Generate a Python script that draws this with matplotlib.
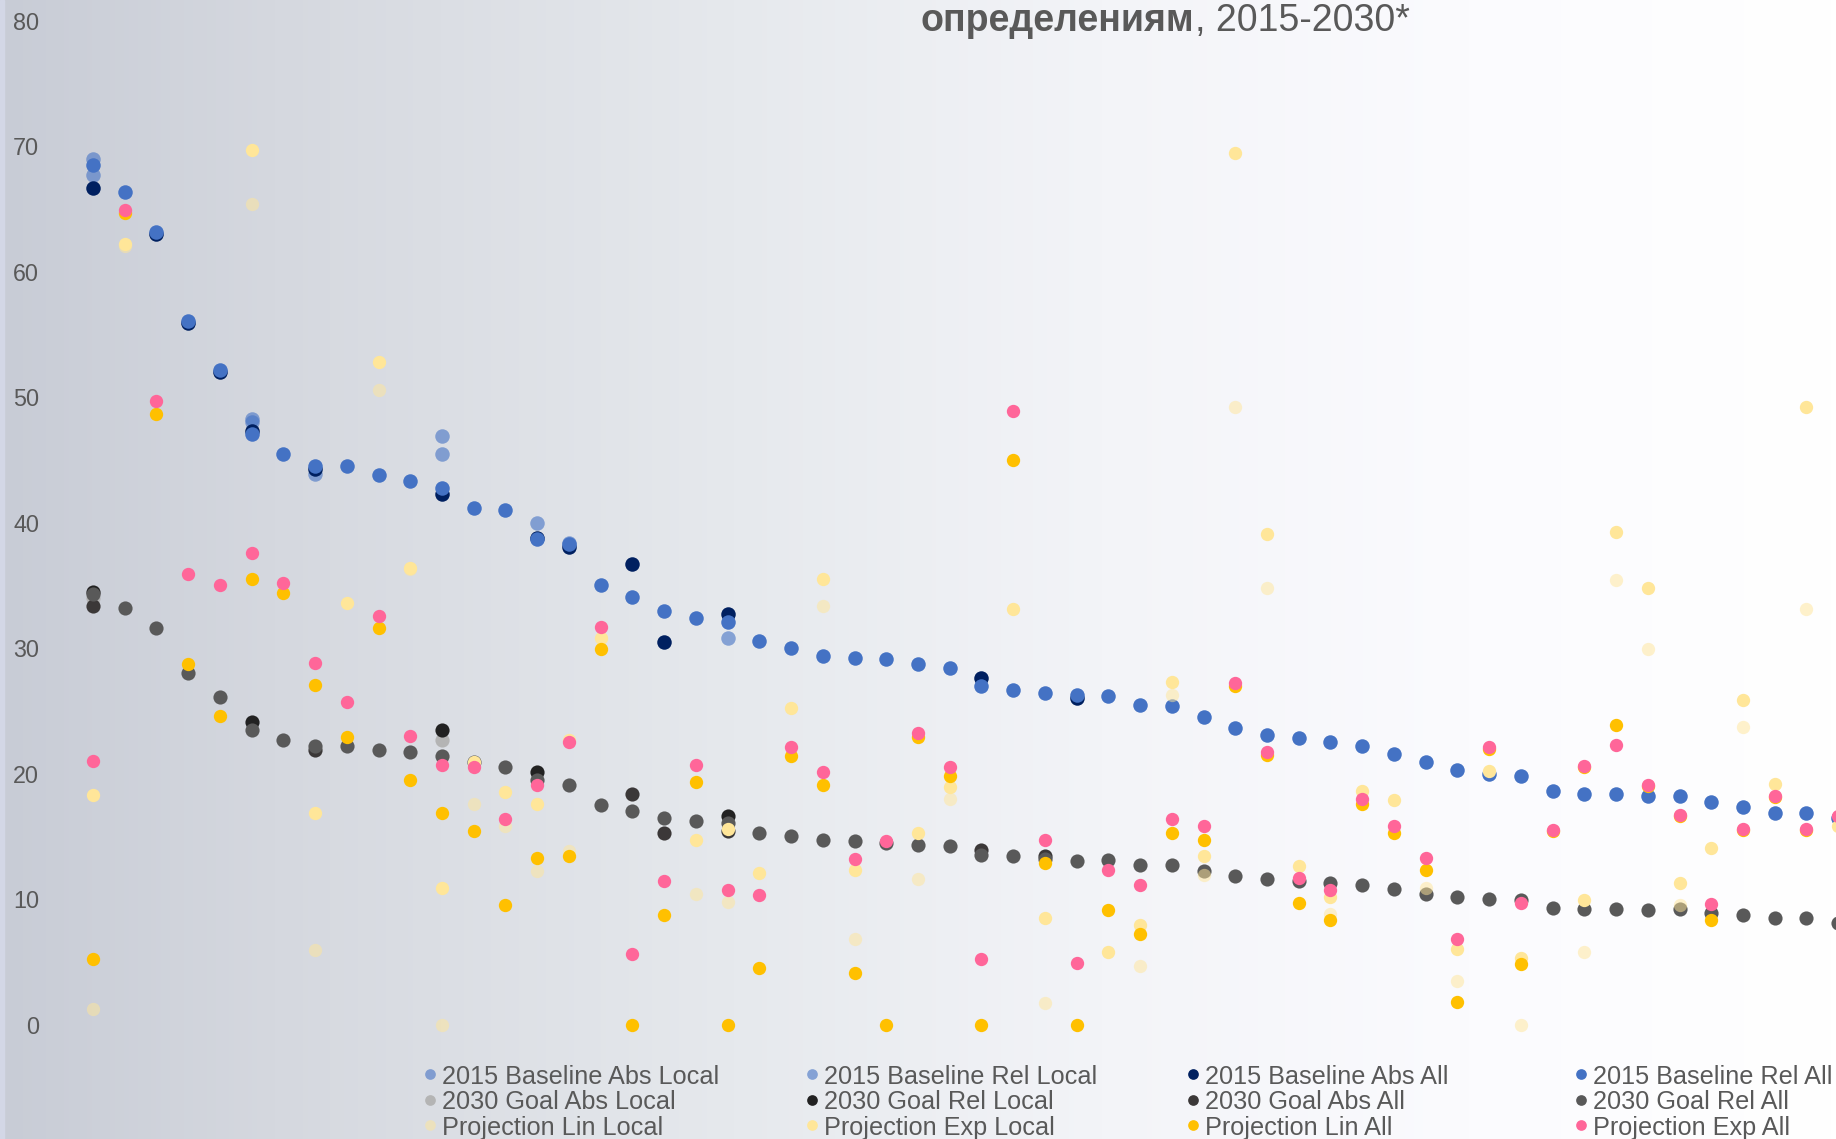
import numpy as np
import matplotlib
matplotlib.use("Agg")
import matplotlib.pyplot as plt
from matplotlib.lines import Line2D

plt.rcParams['font.family'] = ['Liberation Sans', 'DejaVu Sans']

N = None
# values per country (56 positions, left to right), None = no visible point
base_abs_local = [69.0, N, N, N, N, 48.3, N, N, N, N,
                  N, 46.9, N, N, 40.0, 38.4, N, N, N, N,
                  N, N, N, N, N, N, N, N, N, N,
                  N, N, N, N, N, N, N, N, N, N,
                  N, N, N, N, N, N, N, N, N, N,
                  N, N, N, N, N, N]
base_rel_local = [67.7, N, N, N, N, 48.0, N, 43.9, N, N,
                  N, 45.5, N, N, N, N, N, N, N, N,
                  30.8, N, N, N, N, N, N, N, N, N,
                  N, N, N, N, N, N, N, N, N, N,
                  N, N, N, N, N, N, N, N, N, N,
                  N, N, N, N, N, N]
base_abs_all = [66.7, N, 63.0, 55.9, 52.0, 47.3, N, 44.3, N, N,
                N, 42.3, N, N, 38.8, 38.1, N, 36.7, 30.5, N,
                32.7, N, N, N, N, N, N, N, 27.6, N,
                N, 26.0, N, N, N, N, N, N, N, N,
                N, N, N, N, N, N, N, N, N, N,
                N, N, N, N, N, N]
base_rel_all = [68.5, 66.4, 63.2, 56.1, 52.2, 47.1, 45.5, 44.5, 44.5, 43.8,
                43.3, 42.8, 41.2, 41.0, 38.7, 38.3, 35.0, 34.1, 33.0, 32.4,
                32.1, 30.6, 30.0, 29.4, 29.2, 29.1, 28.7, 28.4, 27.0, 26.7,
                26.4, 26.3, 26.2, 25.5, 25.4, 24.5, 23.6, 23.1, 22.8, 22.5,
                22.2, 21.6, 20.9, 20.3, 20.0, 19.8, 18.6, 18.4, 18.4, 18.2,
                18.2, 17.7, 17.3, 16.9, 16.9, 16.5]
goal_abs_local = [34.0, N, N, N, N, N, N, N, N, N,
                  N, 22.7, N, N, N, N, N, N, N, N,
                  N, N, N, N, N, N, N, N, N, N,
                  N, N, N, N, N, N, N, N, N, N,
                  N, N, N, N, N, N, N, N, N, N,
                  N, N, N, N, N, N]
goal_rel_local = [34.5, N, N, N, N, 24.1, N, N, N, N,
                  N, 23.5, N, N, 20.1, N, N, N, N, N,
                  16.6, N, N, N, N, N, N, N, N, N,
                  N, N, N, N, N, N, N, N, N, N,
                  N, N, N, N, N, N, N, N, N, N,
                  N, N, N, N, N, N]
goal_abs_all = [33.4, N, N, N, N, N, N, 21.9, N, N,
                N, N, N, N, N, N, N, 18.4, 15.3, N,
                15.4, N, N, N, N, N, N, N, 13.9, N,
                13.4, N, N, N, N, N, N, N, N, N,
                N, N, N, N, N, N, N, N, N, N,
                N, N, N, N, N, N]
goal_rel_all = [34.3, 33.2, 31.6, 28.0, 26.1, 23.5, 22.7, 22.2, 22.2, 21.9,
                21.7, 21.4, 20.9, 20.5, 19.5, 19.1, 17.5, 17.0, 16.5, 16.2,
                16.1, 15.3, 15.0, 14.7, 14.6, 14.5, 14.3, 14.2, 13.5, 13.4,
                13.2, 13.0, 13.1, 12.7, 12.7, 12.2, 11.8, 11.6, 11.4, 11.3,
                11.1, 10.8, 10.4, 10.2, 10.0, 9.9, 9.3, 9.2, 9.2, 9.1,
                9.2, 8.9, 8.7, 8.5, 8.5, 8.1]
proj_lin_local = [1.2, 62.1, N, N, N, 65.4, N, 5.9, N, 50.6,
                  36.3, 0.0, 17.6, 15.8, 12.2, 13.8, N, N, N, 10.4,
                  9.8, N, N, 33.4, 6.8, N, 11.6, 18.0, N, N,
                  1.7, N, N, 4.7, 26.3, 11.9, 49.2, 34.8, N, 8.8,
                  N, N, 10.9, 3.5, N, 0.0, N, 5.8, 35.4, 29.9,
                  9.5, N, 23.7, N, 33.1, N]
proj_exp_local = [18.3, 62.2, N, N, N, 69.7, N, 16.9, 33.6, 52.8,
                  36.4, 10.9, 20.9, 18.5, 17.6, 22.7, 30.8, N, N, 14.7,
                  15.6, 12.1, 25.2, 35.5, 12.3, N, 15.3, 18.9, N, 33.1,
                  8.5, N, 5.8, 7.9, 27.3, 13.4, 69.5, 39.1, 12.6, 10.2,
                  18.6, 17.9, N, 6.0, 20.2, 5.3, N, 9.9, 39.3, 34.8,
                  11.3, 14.1, 25.9, 19.2, 49.2, 15.8]
proj_lin_all = [5.2, 64.7, 48.7, 28.7, 24.6, 35.5, 34.4, 27.1, 22.9, 31.6,
                19.5, 16.9, 15.4, 9.5, 13.3, 13.4, 29.9, 0.0, 8.7, 19.3,
                0.0, 4.5, 21.4, 19.1, 4.1, 0.0, 22.9, 19.8, 0.0, 45.0,
                12.9, 0.0, 9.1, 7.2, 15.3, 14.7, 27.0, 21.5, 9.7, 8.3,
                17.6, 15.3, 12.3, 1.8, 22.0, 4.8, 15.4, 20.5, 23.9, 19.0,
                16.6, 8.3, 15.5, 18.1, 15.5, N]
proj_exp_all = [21.0, 64.9, 49.7, 35.9, 35.0, 37.6, 35.2, 28.8, 25.7, 32.6,
                23.0, 20.7, 20.5, 16.4, 19.1, 22.5, 31.7, 5.6, 11.4, 20.7,
                10.7, 10.3, 22.1, 20.1, 13.2, 14.6, 23.2, 20.5, 5.2, 48.9,
                14.7, 4.9, 12.3, 11.1, 16.4, 15.8, 27.2, 21.7, 11.7, 10.7,
                18.0, 15.8, 13.3, 6.8, 22.1, 9.7, 15.5, 20.6, 22.3, 19.1,
                16.7, 9.6, 15.6, 18.2, 15.6, 16.6]

series = [
    ("2015 Baseline Abs Local", base_abs_local, "#4472c4", 0.6, 109),
    ("2015 Baseline Rel Local", base_rel_local, "#4472c4", 0.6, 109),
    ("2015 Baseline Abs All", base_abs_all, "#002060", 1.0, 109),
    ("2015 Baseline Rel All", base_rel_all, "#4472c4", 1.0, 109),
    ("2030 Goal Abs Local", goal_abs_local, "#b4b4b4", 1.0, 104),
    ("2030 Goal Rel Local", goal_rel_local, "#222222", 1.0, 104),
    ("2030 Goal Abs All", goal_abs_all, "#3b3838", 1.0, 104),
    ("2030 Goal Rel All", goal_rel_all, "#595959", 1.0, 104),
    ("Projection Lin Local", proj_lin_local, "#ffe699", 0.5, 92),
    ("Projection Exp Local", proj_exp_local, "#ffe699", 1.0, 92),
    ("Projection Lin All", proj_lin_all, "#ffc000", 1.0, 92),
    ("Projection Exp All", proj_exp_all, "#ff6699", 1.0, 92),
]

W, H = 1836, 1139
fig = plt.figure(figsize=(W / 100, H / 100), dpi=100)
ax = fig.add_axes([0, 0, 1, 1])

x = np.arange(len(base_rel_all))
x0_px, dx_px = 93.0, 31.73
xl = (-x0_px / dx_px, (W - x0_px) / dx_px)
y0_px, dy_px = 1024.5, 12.544  # pixel of value 0, pixels per unit
yl = (-(H - y0_px) / dy_px, y0_px / dy_px)

# background gradient, grey-blue on the left fading to white
stops = [(0.0, (200, 204, 214)), (0.15, (213, 216, 223)), (0.4, (230, 233, 237)),
         (0.6, (243, 244, 248)), (0.8, (251, 251, 254)), (1.0, (255, 255, 255))]
pos = np.linspace(0, 1, 400)
grad = np.stack([np.interp(pos, [s[0] for s in stops], [s[1][c] for s in stops]) for c in range(3)], axis=-1) / 255
ax.imshow(grad[np.newaxis, :, :], extent=[xl[0], xl[1], yl[0], yl[1]], aspect='auto', zorder=0)
fig.patches.append(plt.Rectangle((0, 0), 4 / W, 1, transform=fig.transFigure, color='#d3d7e6', zorder=1))

for i, (name, vals, col, a, s) in enumerate(series):
    v = np.array([np.nan if t is None else t for t in vals], dtype=float)
    ax.scatter(x, v, s=s, color=col, alpha=a, linewidths=0, zorder=2 + i)

ax.set_xlim(*xl)
ax.set_ylim(*yl)
for sp in ax.spines.values():
    sp.set_visible(False)
ax.set_xticks([])
ax.set_yticks(range(0, 81, 10))
ax.tick_params(axis='y', length=0, pad=-28.1, labelsize=16.8, labelcolor='#595959')
for lab in ax.get_yticklabels():
    lab.set_horizontalalignment('right')

# title (second line visible only)
t1 = fig.text(921 / W, 1 - 31 / H, 'определениям', weight='bold', size=27,
              color='#595959', va='baseline')
ax.annotate(', 2015-2030*', xy=(1, 0), xycoords=t1, va='bottom', ha='left',
            size=27, color='#595959')

# legend, 4 columns x 3 rows
col_px = [430, 812, 1193, 1581]
row_px = [1074, 1099.5, 1125]
for i, (name, vals, col, a, s) in enumerate(series):
    c, r = i % 4, i // 4
    fx, fy = col_px[c] / W, 1 - row_px[r] / H
    fig.add_artist(Line2D([fx], [fy], transform=fig.transFigure, marker='o', ls='',
                          markersize=7.7, color=col, alpha=a, markeredgewidth=0))
    fig.text(fx + 12 / W, fy, name, size=18.2, color='#595959', va='center_baseline')

fig.savefig('out.png', dpi=100)
